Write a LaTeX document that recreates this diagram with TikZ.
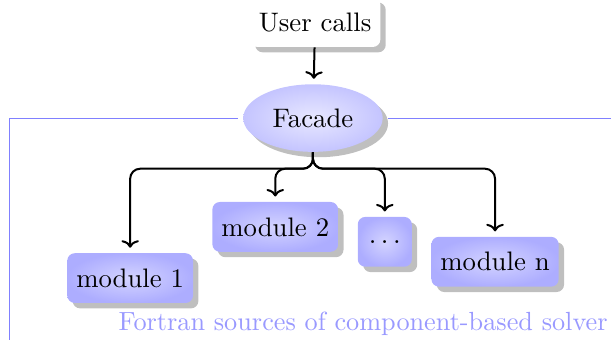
\documentclass[tikz,border=0pt]{standalone}
\usepackage{tikz}
\usetikzlibrary{shapes.geometric,shadows,arrows.meta}

\begin{document}
\begin{tikzpicture}[
    font=\fontsize{10.7pt}{13pt}\selectfont,
    module/.style={rectangle,rounded corners=3pt,shading=radial,inner color=blue!17,outer color=blue!32,drop shadow,minimum height=0.7cm,inner xsep=3.6pt},
    facadenode/.style={ellipse,shading=radial,inner color=blue!9,outer color=blue!23,drop shadow,minimum width=1.96cm,minimum height=0.95cm},
    callbox/.style={rectangle,rounded corners=3pt,fill=white,drop shadow,minimum height=0.7cm,inner xsep=3.6pt},
    frameline/.style={draw=blue!50},
    call/.style={-{To[length=3pt,width=7pt]},thick,rounded corners=4pt,shorten >=2pt}]
   \useasboundingbox (-4.40,-3.11) rectangle (4.19,1.66);
   % frame round the solver
   \coordinate (frametl) at (-4.26,0);
   \coordinate (frametr) at (4.40,0);
   \coordinate (framebl) at (-4.26,-3.40);
   \begin{scope}
    \node[callbox] (user) at (0.03,1.35) {User calls};
    \node[facadenode] (facade) at (0,0) {Facade};
    \node[module] (m1) at (-2.57,-2.25) {module 1};
    \node[module] (m2) at (-0.53,-1.53) {module 2};
    \node[module,minimum width=0.76cm] (mdots) at (1.01,-1.74) {$\dots$};
    \node[module] (mn) at (2.56,-2.02) {module n};
   \end{scope}
   \draw[frameline] (framebl) -- (frametl) -- ([xshift=-2pt]facade.west);
   \draw[frameline] ([xshift=2pt]facade.east) -- (frametr);
   \node[blue!40,anchor=base west,inner xsep=0pt,font=\fontsize{10.5pt}{13pt}\selectfont] (solver) at (-2.74,-2.98) {Fortran sources of component-based solver};
   \begin{scope}
    \draw[call] (user) -- (facade);
    \draw[call] (facade.south) -- ++(0,-0.23) -| (m1.north);
    \draw[call] (facade.south) -- ++(0,-0.23) -| (m2.north);
    \draw[call] (facade.south) -- ++(0,-0.23) -| (mdots.north);
    \draw[call] (facade.south) -- ++(0,-0.23) -| (mn.north);
   \end{scope}
\end{tikzpicture}
\end{document}
